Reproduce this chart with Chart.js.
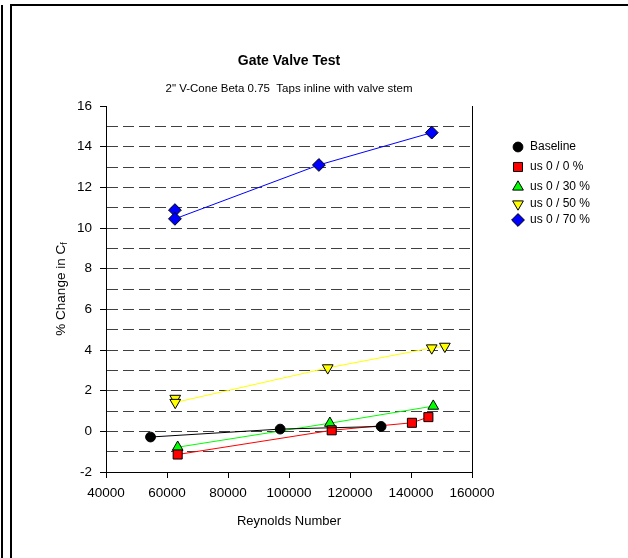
<!DOCTYPE html>
<html><head><meta charset="utf-8">
<script src="https://cdn.jsdelivr.net/npm/chart.js@4.4.1/dist/chart.umd.min.js"></script>
<style>html,body{margin:0;padding:0;background:#fff;overflow:hidden}canvas{display:block}</style>
</head><body>
<canvas id="c" width="628" height="558"></canvas>
<script>
// ---- data ----
const titleText = 'Gate Valve Test';
const subtitleText = '2" V-Cone Beta 0.75  Taps inline with valve stem';
const xAxisTitle = 'Reynolds Number';
const yAxisTitle = '% Change in C';
const yAxisTitleSub = 'f';
const seriesLabels = ['Baseline', 'us 0 / 0 %', 'us 0 / 30 %', 'us 0 / 50 %', 'us 0 / 70 %'];

const baselineRe = [54600, 97100, 130200];
const baselineVal = [-0.28, 0.11, 0.24];
const us0Re = [63500, 114000, 140300, 145700];
const us0Val = [-1.14, 0.05, 0.42, 0.70];
const us30Re = [63500, 113400, 147300];
const us30Val = [-0.78, 0.40, 1.24];
const us50Re = [62700, 62700, 112700, 146800, 151100];
const us50Val = [1.62, 1.42, 3.12, 4.10, 4.18];
const us70Re = [62600, 62600, 109800, 146800];
const us70Val = [10.88, 10.45, 13.10, 14.69];

const xTicks = [40000, 60000, 80000, 100000, 120000, 140000, 160000];
const yTicks = [-2, 0, 2, 4, 6, 8, 10, 12, 14, 16];
const yGridLines = [-1, 0, 1, 2, 3, 4, 5, 6, 7, 8, 9, 10, 11, 12, 13, 14, 15];

const seriesColors = ['#000000', '#ff0000', '#00ff00', '#ffff00', '#0000ff'];
const seriesStyles = ['circle', 'rect', 'triangle', 'triangle', 'rectRot'];
const seriesRot = [0, 0, 0, 180, 0];
const seriesRadius = [4.9, 6.4, 6.2, 6.2, 6.4];

function pts(xs, ys) { return xs.map((x, i) => ({x: x, y: ys[i]})); }
const seriesData = [
  pts(baselineRe, baselineVal),
  pts(us0Re, us0Val),
  pts(us30Re, us30Val),
  pts(us50Re, us50Val),
  pts(us70Re, us70Val)
];

const datasets = seriesData.map((d, i) => ({
  label: seriesLabels[i],
  data: d,
  showLine: true,
  borderColor: seriesColors[i],
  borderWidth: 1,
  pointStyle: seriesStyles[i],
  rotation: seriesRot[i],
  pointRadius: seriesRadius[i],
  pointBackgroundColor: seriesColors[i],
  pointBorderColor: '#000000',
  pointBorderWidth: 1,
  tension: 0
}));

const FONT = '"Liberation Sans", Arial, sans-serif';

const decor = {
  id: 'decor',
  beforeDraw(chart) {
    const ctx = chart.ctx;
    ctx.save();
    ctx.fillStyle = '#ffffff';
    ctx.fillRect(0, 0, chart.width, chart.height);
    ctx.fillStyle = '#000000';
    ctx.fillRect(1, 5, 2, 553);
    ctx.fillRect(10, 4, 2, 554);
    ctx.fillRect(10, 4, 618, 2);
    ctx.restore();
  },
  afterDraw(chart) {
    const ctx = chart.ctx;
    const a = chart.chartArea;
    const cx = (a.left + a.right) / 2;
    ctx.save();
    // right border
    ctx.strokeStyle = '#000';
    ctx.lineWidth = 1;
    ctx.beginPath();
    ctx.moveTo(Math.round(a.right) + 0.5, a.top);
    ctx.lineTo(Math.round(a.right) + 0.5, a.bottom);
    ctx.stroke();
    // titles
    ctx.fillStyle = '#000';
    ctx.textAlign = 'center';
    ctx.textBaseline = 'middle';
    ctx.font = 'bold 14px ' + FONT;
    ctx.fillText(titleText, cx, 61);
    ctx.font = '11.5px ' + FONT;
    ctx.fillText(subtitleText, cx, 89);
    ctx.font = '13px ' + FONT;
    ctx.fillText(xAxisTitle, cx, 521);
    // y title with subscript
    ctx.translate(61, (a.top + a.bottom) / 2);
    ctx.rotate(-Math.PI / 2);
    ctx.font = '13.5px ' + FONT;
    const w1 = ctx.measureText(yAxisTitle).width;
    ctx.font = '9px ' + FONT;
    const w2 = ctx.measureText(yAxisTitleSub).width;
    const start = -(w1 + w2) / 2;
    ctx.textAlign = 'left';
    ctx.font = '13.5px ' + FONT;
    ctx.fillText(yAxisTitle, start, 0);
    ctx.font = '9px ' + FONT;
    ctx.fillText(yAxisTitleSub, start + w1, 4);
    ctx.restore();
    // legend
    const legendY = [147, 167, 187, 204, 220];
    ctx.save();
    chart.data.datasets.forEach((ds, i) => {
      ctx.fillStyle = ds.pointBackgroundColor;
      ctx.strokeStyle = ds.pointBorderColor;
      ctx.lineWidth = 1;
      Chart.helpers.drawPoint(ctx, {pointStyle: ds.pointStyle, rotation: ds.rotation, radius: ds.pointRadius, borderWidth: 1}, 518, legendY[i]);
      ctx.fillStyle = '#000';
      ctx.font = '12px ' + FONT;
      ctx.textAlign = 'left';
      ctx.textBaseline = 'middle';
      ctx.fillText(ds.label, 530, legendY[i]);
    });
    ctx.restore();
  }
};

new Chart(document.getElementById('c'), {
  type: 'scatter',
  data: { datasets: datasets },
  options: {
    responsive: false,
    animation: false,
    layout: { padding: { left: 0, top: 106, right: 156, bottom: 0 } },
    plugins: { legend: { display: false }, tooltip: { enabled: false } },
    scales: {
      x: {
        type: 'linear',
        min: xTicks[0], max: xTicks[xTicks.length - 1],
        afterBuildTicks: s => { s.ticks = xTicks.map(v => ({value: v})); },
        afterFit: s => { s.height = 86; },
        ticks: { color: '#000', font: { family: FONT, size: 13.5 }, padding: 7, maxRotation: 0, callback: v => String(v) },
        grid: { drawOnChartArea: false, tickLength: 6, tickColor: '#000', tickWidth: 1 },
        border: { color: '#000', width: 1 }
      },
      y: {
        type: 'linear',
        min: yTicks[0], max: yTicks[yTicks.length - 1],
        afterBuildTicks: s => {
          const all = Array.from(new Set(yTicks.concat(yGridLines))).sort((p, q) => p - q);
          s.ticks = all.map(v => ({value: v}));
        },
        afterFit: s => { s.width = 106; },
        ticks: {
          color: '#000', font: { family: FONT, size: 13.5 }, padding: 8, autoSkip: false,
          callback: v => (yTicks.includes(v) ? String(v) : '')
        },
        grid: {
          tickLength: 6,
          tickWidth: 1,
          tickBorderDash: [],
          tickColor: c => (yTicks.includes(c.tick.value) ? '#000' : 'rgba(0,0,0,0)'),
          color: c => (yGridLines.includes(c.tick.value) ? '#404040' : 'rgba(0,0,0,0)'),
          lineWidth: 1
        },
        border: { color: '#000', width: 1, dash: [11, 5] }
      }
    }
  },
  plugins: [decor]
});
</script>
</body></html>
